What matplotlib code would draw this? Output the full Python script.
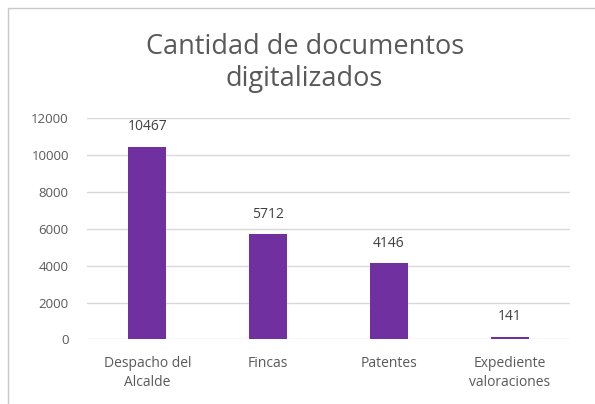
import matplotlib.pyplot as plt
from matplotlib.patches import Rectangle

categories = ["Despacho del\nAlcalde", "Fincas", "Patentes", "Expediente\nvaloraciones"]
values = [10467, 5712, 4146, 141]
yticks = [0, 2000, 4000, 6000, 8000, 10000, 12000]

plt.rcParams['font.family'] = ['Open Sans', 'DejaVu Sans']

fig = plt.figure(figsize=(5.95, 4.04), dpi=100)
ax = fig.add_axes([0.146, 0.160, 0.812, 0.547])

# outer chart border (runs past the right/bottom edge like the screenshot)
fig.patches.append(Rectangle((8 / 595, -0.2), 1.2, 1 - 8 / 404 + 0.2,
                             transform=fig.transFigure, fill=False,
                             edgecolor='#c8c8c8', linewidth=1.0))

x = range(len(categories))
ax.bar(x, values, width=0.315, color='#7030a0', zorder=3)
for xi, v in zip(x, values):
    ax.annotate(str(v), (xi, v), xytext=(0, 9), textcoords='offset points',
                ha='center', va='bottom', fontsize=10, color='#404040')

ax.set_xlim(-0.5, len(categories) - 0.5)
ax.set_ylim(0, 12000)
ax.set_yticks(yticks)
ax.set_yticklabels([str(t) for t in yticks], fontsize=9.5, color='#595959')
ax.set_xticks(list(x))
ax.set_xticklabels(categories, fontsize=10, color='#595959', linespacing=1.4)
ax.tick_params(axis='y', length=0, pad=13)
ax.tick_params(axis='x', length=0, pad=12)
ax.grid(axis='y', color='#d9d9d9', linewidth=1.0, zorder=0)
for s in ax.spines.values():
    s.set_visible(False)

fig.text(0.512, 0.845, "Cantidad de documentos\ndigitalizados", ha='center', va='center',
         fontsize=19.5, color='#595959', linespacing=1.2)

fig.savefig("out.png", dpi=100)
